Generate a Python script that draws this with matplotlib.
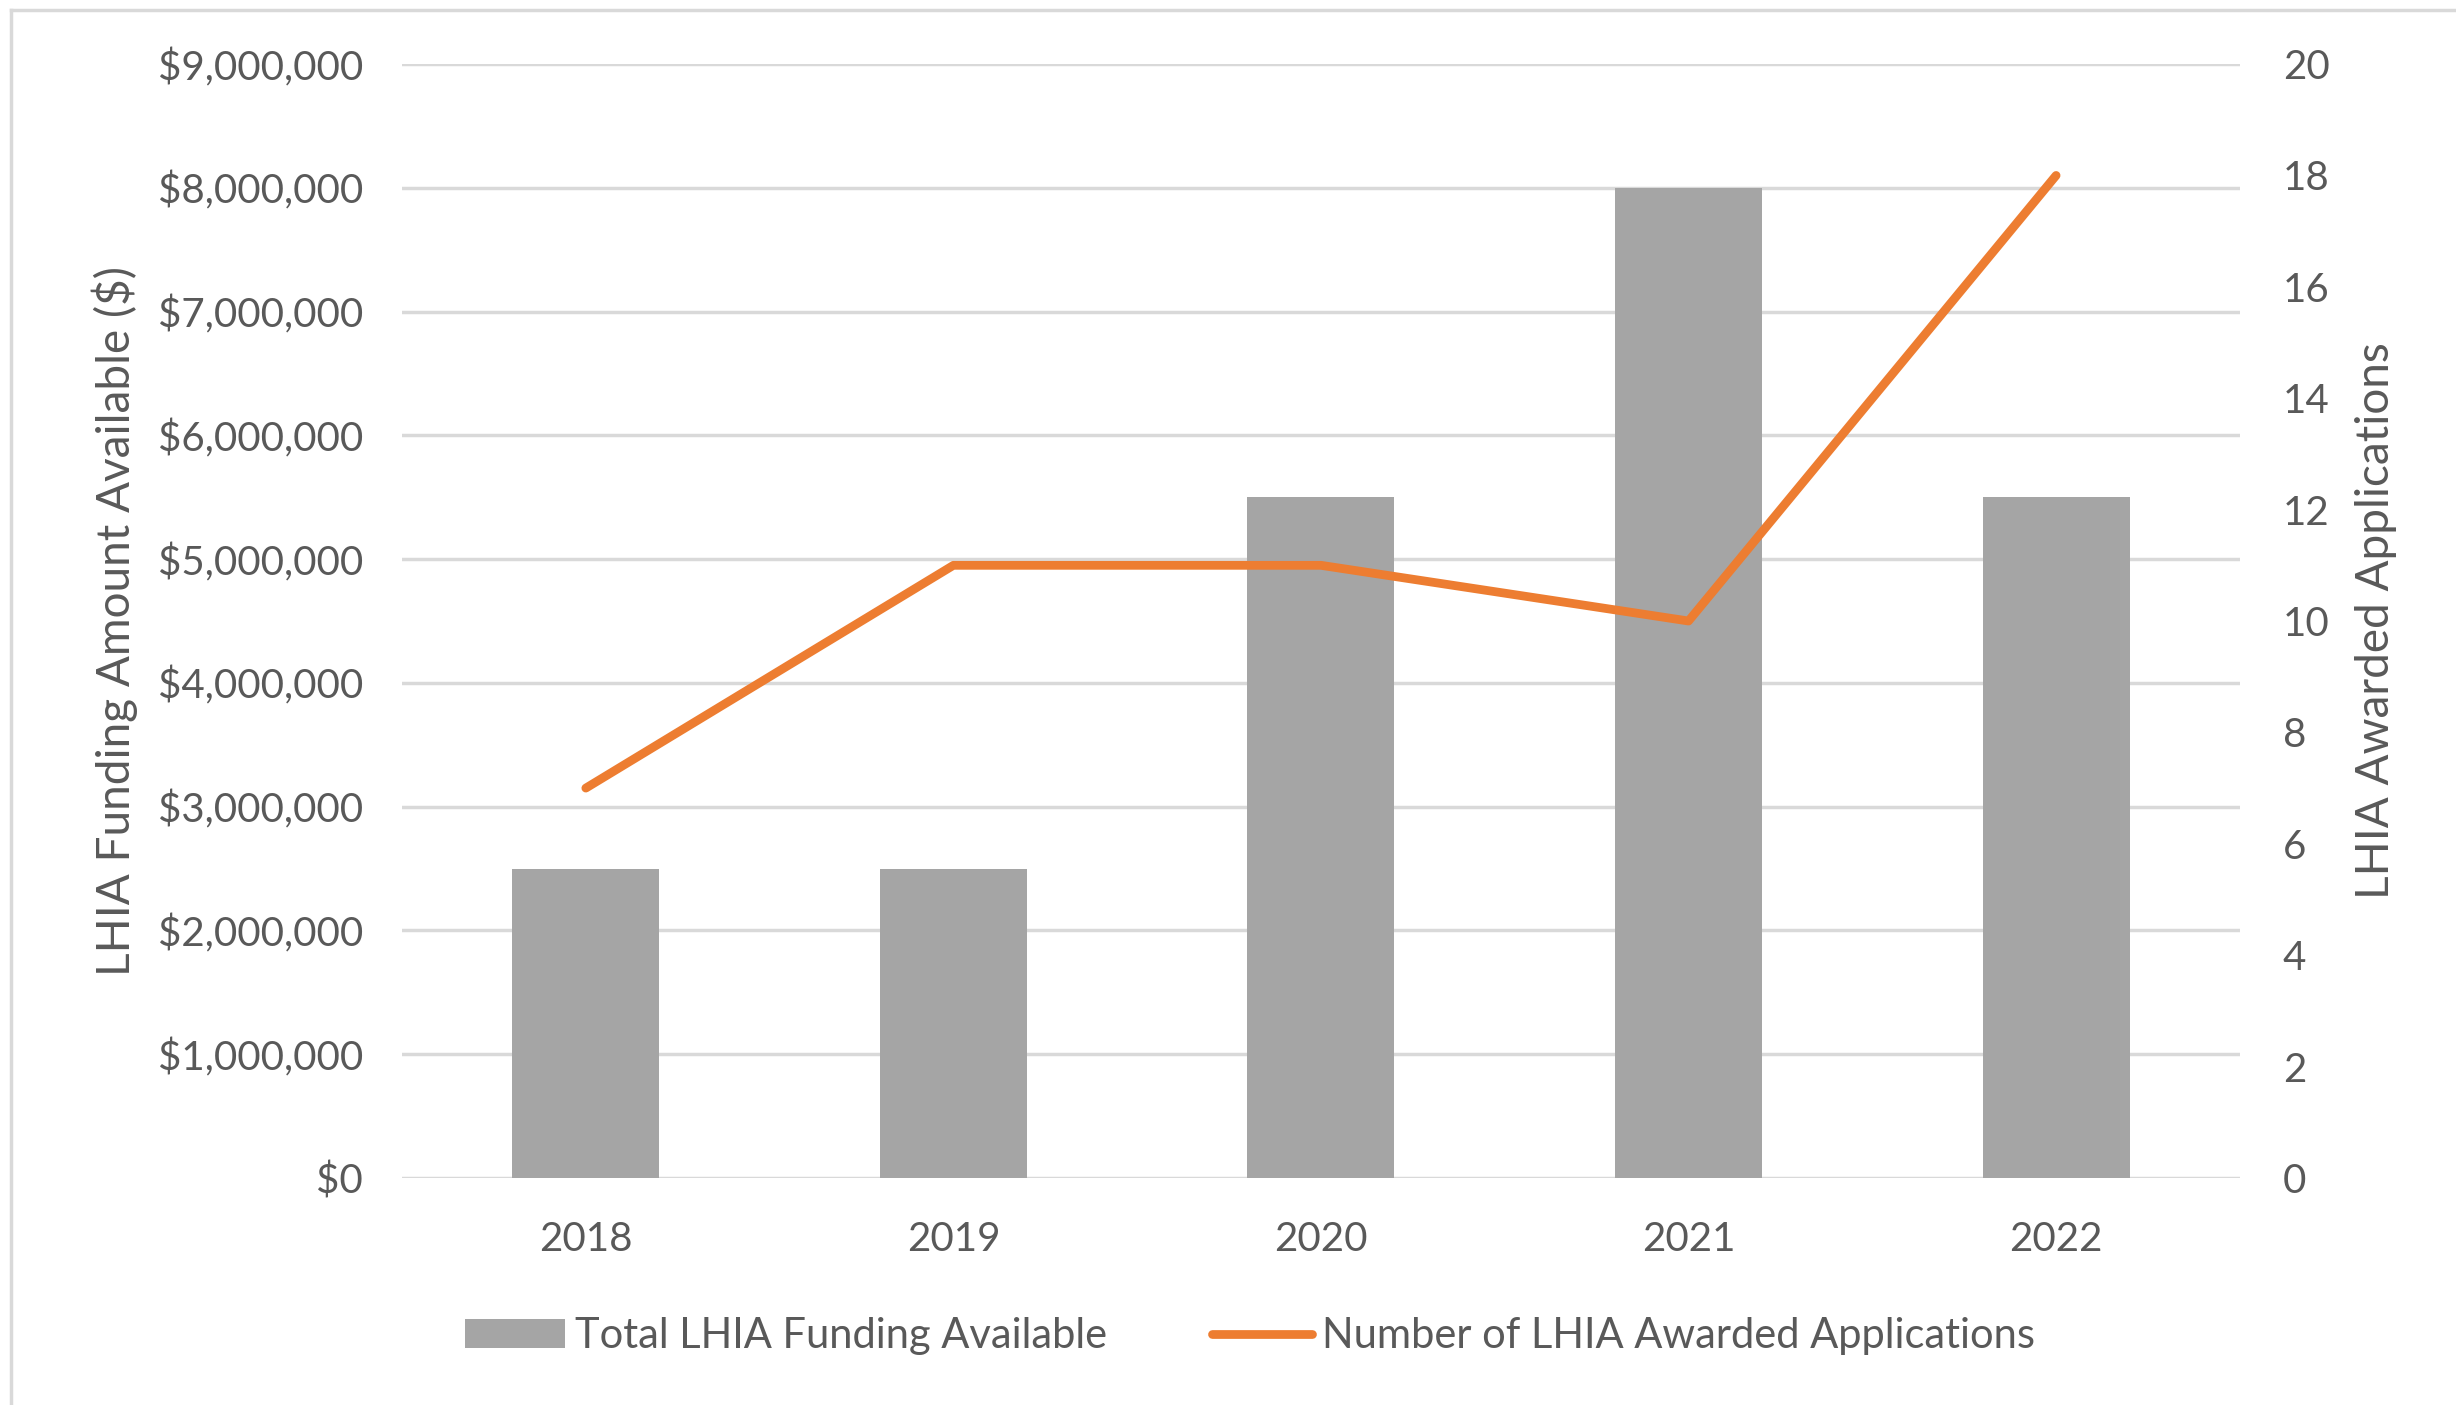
import numpy as np
import matplotlib.pyplot as plt
from matplotlib.ticker import FuncFormatter, MultipleLocator

years = ['2018', '2019', '2020', '2021', '2022']
funding = [2500000, 2500000, 5500000, 8000000, 5500000]
awarded = [7, 11, 11, 10, 18]

bar_color = '#A5A5A5'
line_color = '#ED7D31'
grid_color = '#D9D9D9'
text_color = '#595959'

plt.rcParams['font.family'] = ['Lato', 'DejaVu Sans']
fs = 29
label_fs = 33

fig = plt.figure(figsize=(24.56, 14.05), dpi=100)
ax = fig.add_axes([0.1637, 0.1616, 0.912 - 0.1637, 0.9544 - 0.1616])

x = np.arange(len(years))
bars = ax.bar(x, funding, width=0.40, color=bar_color, zorder=2,
              label='Total LHIA Funding Available')
ax.set_xlim(-0.5, len(years) - 0.5)
ax.set_ylim(0, 9000000)
ax.yaxis.set_major_locator(MultipleLocator(1000000))
ax.yaxis.set_major_formatter(FuncFormatter(lambda v, p: '${:,.0f}'.format(v)))
ax.set_xticks(x)
ax.set_xticklabels(years)
ax.grid(axis='y', color=grid_color, linewidth=2.5)
ax.set_axisbelow(True)
for s in ax.spines.values():
    s.set_visible(False)
ax.tick_params(axis='y', length=0, pad=28, labelsize=fs, labelcolor=text_color)
ax.tick_params(axis='x', length=0, pad=31, labelsize=fs, labelcolor=text_color)
ax.set_ylabel('LHIA Funding Amount Available ($)', fontsize=label_fs, color=text_color, labelpad=14)

ax2 = ax.twinx()
line, = ax2.plot(x, awarded, color=line_color, linewidth=6.3, solid_capstyle='round',
                 label='Number of LHIA Awarded Applications', zorder=3)
ax2.set_ylim(0, 20)
ax2.yaxis.set_major_locator(MultipleLocator(2))
for s in ax2.spines.values():
    s.set_visible(False)
ax2.tick_params(axis='y', length=0, pad=31, labelsize=fs, labelcolor=text_color)
ax2.set_ylabel('LHIA Awarded Applications', fontsize=label_fs, color=text_color,
               rotation=90, labelpad=18)

fig.legend([bars, line], ['Total LHIA Funding Available', 'Number of LHIA Awarded Applications'],
           loc='center', bbox_to_anchor=(0.509, 0.049), ncol=2, frameon=False,
           fontsize=30, labelcolor=text_color, handlelength=2.4, handletextpad=0.25,
           columnspacing=2.5)

# outer frame (top and left edges visible in the crop)
fig.add_artist(plt.Line2D([11 / 2456, 11 / 2456], [0, 1 - 10 / 1405], transform=fig.transFigure,
                          color=grid_color, linewidth=2.5))
fig.add_artist(plt.Line2D([11 / 2456, 1], [1 - 10 / 1405, 1 - 10 / 1405], transform=fig.transFigure,
                          color=grid_color, linewidth=2.5))

fig.savefig('out.png', dpi=100)
